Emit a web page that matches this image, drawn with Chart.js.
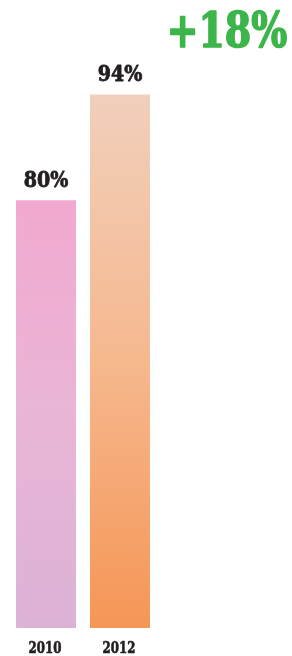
<!DOCTYPE html>
<html>
<head>
<meta charset="utf-8">
<script src="https://cdn.jsdelivr.net/npm/chart.js@4"></script>
<style>
  html, body { margin: 0; padding: 0; background: #fff; }
  #wrap { width: 292px; height: 656px; }
</style>
</head>
<body>
<div id="wrap"><canvas id="grafico" width="292" height="656"></canvas></div>
<script>
const years = ['2010', '2012'];
const values = [80, 94];
const valueLabels = ['80%', '94%'];
const changeLabel = '+18%';

// colores del degradado de cada barra (arriba, medio, abajo)
const barColors = [
  ['#f2a9d0', '#e9b5d6', '#dcb2d6'],
  ['#f1cfbc', '#f6b88e', '#f59656']
];

function barGradient(context) {
  const chart = context.chart;
  const area = chart.chartArea;
  if (!area) return barColors[context.dataIndex][0];
  const y = chart.scales.y;
  const top = y.getPixelForValue(values[context.dataIndex]);
  const bottom = area.bottom;
  const c = barColors[context.dataIndex];
  const g = chart.ctx.createLinearGradient(0, top, 0, bottom);
  g.addColorStop(0, c[0]);
  g.addColorStop(0.5, c[1]);
  g.addColorStop(1, c[2]);
  return g;
}

function slabText(ctx, text, x, y, size, color, sx, weight) {
  ctx.save();
  ctx.font = 'bold ' + size + 'px "DejaVu Serif Condensed", "DejaVu Serif"';
  ctx.fillStyle = color;
  ctx.strokeStyle = color;
  ctx.lineWidth = weight;
  ctx.lineJoin = 'round';
  ctx.textBaseline = 'alphabetic';
  ctx.textAlign = 'center';
  ctx.translate(x, y);
  ctx.scale(sx, 1);
  ctx.fillText(text, 0, 0);
  if (weight > 0) ctx.strokeText(text, 0, 0);
  ctx.restore();
}

const etiquetas = {
  id: 'etiquetas',
  afterDatasetsDraw(chart) {
    const ctx = chart.ctx;
    const meta = chart.getDatasetMeta(0);
    meta.data.forEach((bar, i) => {
      slabText(ctx, valueLabels[i], bar.x, bar.y - 13, 23, '#231f20', 0.92, 0.8);
      slabText(ctx, years[i], bar.x - 1, chart.chartArea.bottom + 25, 16, '#231f20', 0.82, 0.6);
    });
    slabText(ctx, changeLabel, 227, 47, 49, '#3cb54a', 0.86, 1.6);
  }
};

new Chart(document.getElementById('grafico').getContext('2d'), {
  type: 'bar',
  data: {
    labels: years,
    datasets: [{
      data: values,
      backgroundColor: barGradient,
      borderWidth: 0,
      barPercentage: 0.81,
      categoryPercentage: 1
    }]
  },
  options: {
    responsive: false,
    animation: false,
    layout: { padding: { left: 9, right: 135, top: 49, bottom: 28 } },
    plugins: { legend: { display: false }, tooltip: { enabled: false } },
    scales: {
      x: { display: false },
      y: { display: false, min: 23.5, max: 100 }
    }
  },
  plugins: [etiquetas]
});
</script>
</body>
</html>
